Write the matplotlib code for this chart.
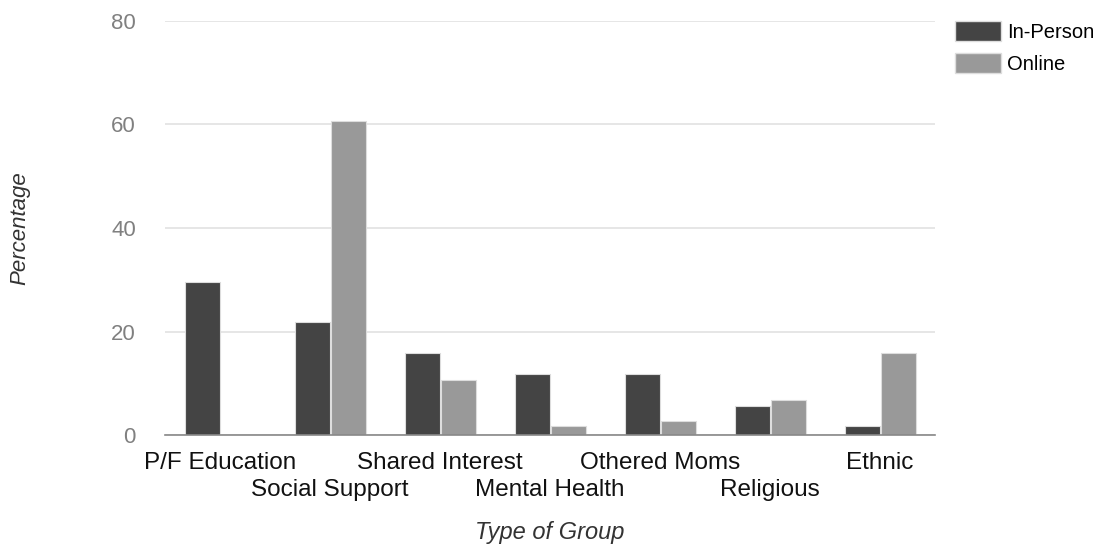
import matplotlib
matplotlib.use("Agg")
import matplotlib.pyplot as plt
import numpy as np
from matplotlib.patches import Patch

categories = ["P/F Education", "Social Support", "Shared Interest", "Mental Health",
              "Othered Moms", "Religious", "Ethnic"]
in_person = [29.5, 21.8, 15.8, 11.7, 11.7, 5.7, 1.8]
online = [0, 60.7, 10.6, 1.8, 2.8, 6.7, 15.8]
series_names = ["In-Person", "Online"]
yticks = [0, 20, 40, 60, 80]

plt.rcParams['font.family'] = ['Liberation Sans', 'DejaVu Sans']

W, H = 1108, 544
fig = plt.figure(figsize=(W / 100, H / 100), dpi=100)
ax = fig.add_axes([165 / W, 1 - 435 / H, (935 - 165) / W, (435 - 21) / H])

c_in = "#444444"
c_on = "#999999"
x = np.arange(len(categories))
bw = 0.315
ax.bar(x - 0.16, in_person, width=bw, color=c_in, edgecolor="#dddddd", linewidth=0.8, zorder=3)
ax.bar(x + 0.17, online, width=bw, color=c_on, edgecolor="#dddddd", linewidth=0.8, zorder=3)

ax.set_xlim(-0.5, len(categories) - 0.5)
ax.set_ylim(0, 80)
ax.set_yticks(yticks)
ax.set_yticklabels([str(v) for v in yticks], color="#808080", fontsize=16)
ax.yaxis.grid(True, color="#e2e2e2", linewidth=1.2, zorder=0)
ax.set_axisbelow(True)
for s in ["top", "right", "left"]:
    ax.spines[s].set_visible(False)
ax.spines["bottom"].set_color("#888888")
ax.spines["bottom"].set_linewidth(1.2)
ax.spines["bottom"].set_zorder(4)
ax.tick_params(axis="both", length=0)
ax.tick_params(axis="y", pad=21)

ax.set_xticks(x)
ax.set_xticklabels(categories, fontsize=17.5, color="#111111")
for i, t in enumerate(ax.xaxis.get_major_ticks()):
    t.set_pad(12 if i % 2 == 0 else 32)

ax.set_xlabel("Type of Group", fontsize=17, style="italic", color="#333333", labelpad=14)
fig.text(20 / W, 1 - 228 / H, "Percentage", rotation=90, fontsize=16, style="italic",
         color="#333333", ha="center", va="center")

handles = [Patch(facecolor=c_in, edgecolor="#dddddd"), Patch(facecolor=c_on, edgecolor="#dddddd")]
leg = fig.legend(handles, series_names, loc="upper left",
                 bbox_to_anchor=(953 / W, 1 - 19 / H), bbox_transform=fig.transFigure,
                 frameon=False, fontsize=14.5, handlelength=2.3, handleheight=1.15,
                 handletextpad=0.3, labelspacing=0.55, borderaxespad=0, borderpad=0.1)

fig.savefig("out.png", dpi=100, facecolor="white")
